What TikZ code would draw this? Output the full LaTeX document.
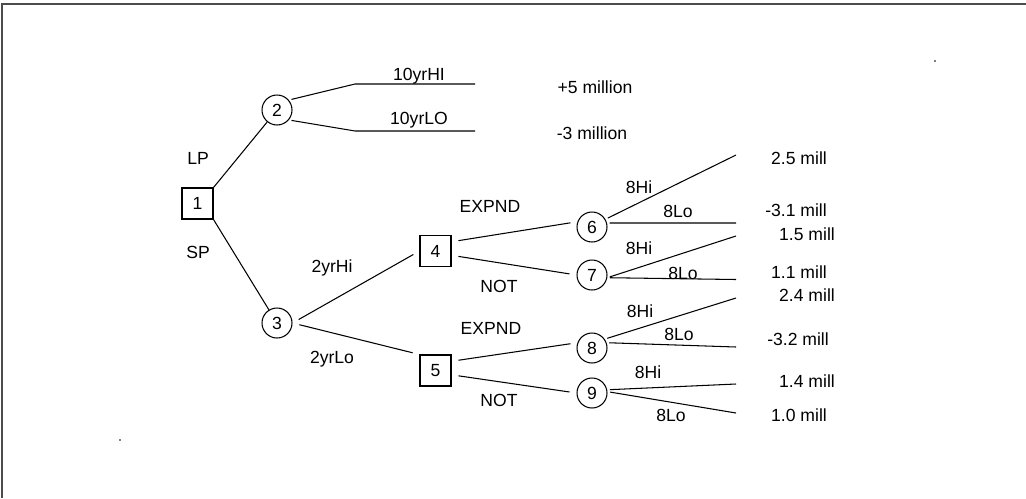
\documentclass[tikz,border=0pt]{standalone}
\usepackage{fontspec}
\setmainfont{Liberation Sans}

\begin{document}
\begin{tikzpicture}[
    x=0.02cm, y=-0.02cm,
    font=\fontsize{10}{12}\selectfont,
    decision/.style={rectangle, draw, line width=0.6pt, minimum size=0.62cm, inner sep=0pt},
    chance/.style={circle, draw, line width=0.6pt, minimum size=0.6cm, inner sep=0pt},
    lbl/.style={inner sep=0pt, text height=7.2pt, text depth=0pt},
    branch/.style={line width=0.6pt},
    gap/.style={shorten <=4pt, shorten >=4pt},
    stub/.style={shorten <=1.5pt}
]
\useasboundingbox (0,0) rectangle (1026,498);

% Frame
\draw[gray!60!black, line width=1pt] (2,498) -- (2,4) -- (1026,4);
\fill[gray] (934,60) rectangle (936,62);
\fill[gray] (119,439) rectangle (121,441);

% Decision and chance nodes
\node[decision] (n1) at (197.5,203.5) {1};
\node[chance] (n2) at (277,110) {2};
\node[chance] (n3) at (277,323) {3};
\node[decision] (n4) at (435.5,251) {4};
\node[decision] (n5) at (435.5,370.5) {5};
\node[chance] (n6) at (592,227) {6};
\node[chance] (n7) at (592,275) {7};
\node[chance] (n8) at (592,348) {8};
\node[chance] (n9) at (592,393) {9};

% Leaf ends
\coordinate (k2hi) at (355,84);  \coordinate (e2hi) at (475,84);
\coordinate (k2lo) at (355,131); \coordinate (e2lo) at (475,131);
\coordinate (e6hi) at (736,155); \coordinate (e6lo) at (736,223);
\coordinate (e7hi) at (736,236); \coordinate (e7lo) at (736,279.5);
\coordinate (e8hi) at (736,298); \coordinate (e8lo) at (736,347);
\coordinate (e9hi) at (736,384); \coordinate (e9lo) at (736,413);

% Branches
\draw[branch] (n1.north east) -- (n2);
\draw[branch] (n1.south east) -- (n3);
\draw[branch, stub] (n2.40) -- (k2hi) -- (e2hi);
\draw[branch, stub] (n2.-40) -- (k2lo) -- (e2lo);
\draw[branch, gap] (n3.east) -- (n4.west);
\draw[branch, gap] (n3.east) -- (n5.north west);
\draw[branch, gap] (n4.30) -- (n6.160);
\draw[branch, gap] (n4.-15) -- (n7.west);
\draw[branch, gap] (n5.30) -- (n8.160);
\draw[branch, gap] (n5.-15) -- (n9.west);
\draw[branch, stub] (n6.30) -- (e6hi);
\draw[branch, stub] (n6.15) -- (e6lo);
\draw[branch, stub] (n7.-10) -- (e7hi);
\draw[branch, stub] (n7.-10) -- (e7lo);
\draw[branch, stub] (n8.35) -- (e8hi);
\draw[branch, stub] (n8.20) -- (e8lo);
\draw[branch, stub] (n9.12) -- (e9hi);
\draw[branch, stub] (n9.5) -- (e9lo);

% Branch labels
\node[lbl] (lp) at (198,158) {LP};
\node[lbl] (sp) at (198,252) {SP};
\node[lbl] (hi10) at (419,74) {10yrHI};
\node[lbl] (lo10) at (419,118) {10yrLO};
\node[lbl] (hi2) at (332,266) {2yrHi};
\node[lbl] (lo2) at (332,357) {2yrLo};
\node[lbl] (exp4) at (490,206) {EXPND};
\node[lbl] (not4) at (499,286) {NOT};
\node[lbl] (exp5) at (491,328) {EXPND};
\node[lbl] (not5) at (499,400) {NOT};
\node[lbl] (hi6) at (639,187) {8Hi};
\node[lbl] (lo6) at (678,211) {8Lo};
\node[lbl] (hi7) at (639,248) {8Hi};
\node[lbl] (lo7) at (683,273) {8Lo};
\node[lbl] (hi8) at (640,311) {8Hi};
\node[lbl] (lo8) at (679,334) {8Lo};
\node[lbl] (hi9) at (648,372) {8Hi};
\node[lbl] (lo9) at (671,415) {8Lo};

% Payoffs
\node[lbl] (v2hi) at (595,87) {+5 million};
\node[lbl] (v2lo) at (592,133) {-3 million};
\node[lbl] (v6hi) at (799,158) {2.5 mill};
\node[lbl] (v6lo) at (796,210) {-3.1 mill};
\node[lbl] (v7hi) at (807,234) {1.5 mill};
\node[lbl] (v7lo) at (799,272) {1.1 mill};
\node[lbl] (v8hi) at (807,295) {2.4 mill};
\node[lbl] (v8lo) at (798,339) {-3.2 mill};
\node[lbl] (v9hi) at (807,381) {1.4 mill};
\node[lbl] (v9lo) at (799,415) {1.0 mill};

\end{tikzpicture}
\end{document}
